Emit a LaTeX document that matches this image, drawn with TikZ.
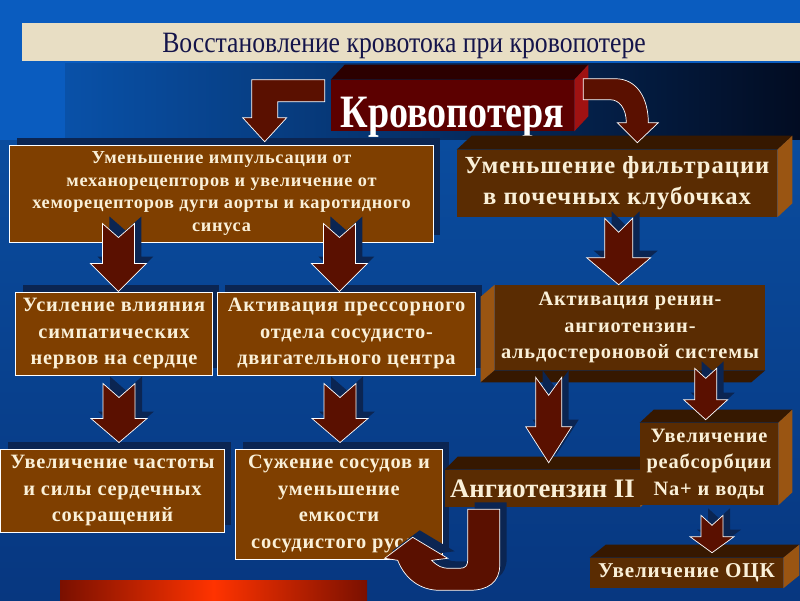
\documentclass[tikz,border=0pt]{standalone}
\usepackage{fontspec}
\setmainfont{Liberation Serif}
\newfontfamily\boxfont[LetterSpace=4]{Liberation Serif}
\newfontfamily\tallfont[FakeStretch=0.82]{Liberation Serif}
\newfontfamily\narrowfont[FakeStretch=0.87]{Liberation Serif}
\usetikzlibrary{calc,shadows}

\definecolor{bgblue}{HTML}{0A5CBF}
\definecolor{bglow}{HTML}{0A4C9E}
\definecolor{bgdeep}{HTML}{073780}
\definecolor{bgnight}{HTML}{020C22}
\definecolor{beige}{HTML}{E8DEC4}
\definecolor{titleink}{HTML}{14144A}
\definecolor{flatbrown}{HTML}{7F3F00}
\definecolor{boxfront}{HTML}{5A2C02}
\definecolor{boxtop}{HTML}{361800}
\definecolor{boxside}{HTML}{9A5512}
\definecolor{redfront}{HTML}{5C0000}
\definecolor{redtop}{HTML}{2C0000}
\definecolor{redside}{HTML}{A01212}
\definecolor{arrowfill}{HTML}{5A1000}
\definecolor{navyshadow}{HTML}{0B2552}
\definecolor{cream}{HTML}{FAF0D8}
\definecolor{barred}{HTML}{FF3300}
\definecolor{bardark}{HTML}{7A1000}

\def\pxu{0.025cm}
% top and right faces of a box drawn as a node
\def\extrude(#1)[#2:#3]#4#5{%
	\fill[#4] (#1.north west) -- ++(#2,#3) -- ($(#1.north east)+(#2,#3)$) -- (#1.north east) -- cycle;
	\fill[#5] (#1.north east) -- ++(#2,#3) -- ($(#1.south east)+(#2,#3)$) -- (#1.south east) -- cycle;}
% notched block arrow: start, tip, shaft half width, head half width, head height, notch
\newcommand\blkarrow[6]{%
	\foreach \dd/\sty in {7/arrshadow,0/arrbody}{%
		\path[\sty] let \p1=#1, \p2=#2, \p3=(\dd,-\dd) in
			(\x1-#3*\pxu+\x3,\y1+\y3) -- (\x1+\x3,\y1-#6*\pxu+\y3) -- (\x1+#3*\pxu+\x3,\y1+\y3)
			-- (\x1+#3*\pxu+\x3,\y2+#5*\pxu+\y3) -- (\x1+#4*\pxu+\x3,\y2+#5*\pxu+\y3)
			-- (\x1+\x3,\y2+\y3) -- (\x1-#4*\pxu+\x3,\y2+#5*\pxu+\y3)
			-- (\x1-#3*\pxu+\x3,\y2+#5*\pxu+\y3) -- cycle;
	}}

\tikzset{
	flat/.style={fill=flatbrown, draw=white, line width=0.7pt, text=cream, align=center, inner sep=0pt,
		drop shadow={shadow xshift=7*\pxu, shadow yshift=7*\pxu, opacity=1, fill=navyshadow}},
	front/.style={fill=boxfront, text=cream, align=center, inner sep=0pt},
	midtext/.style={font=\boxfont\bfseries\fontsize{14.5}{19}\selectfont},
	arrbody/.style={fill=arrowfill, draw=white, line width=0.5pt},
	arrshadow/.style={fill=navyshadow},
}

\begin{document}
\begin{tikzpicture}[x=0.025cm, y=-0.025cm]
			%%%%% BACKGROUND %%%%%
			\clip (0,0) rectangle (800,600);
			\fill[bgblue] (0,0) rectangle (800,600);
			\shade[left color=bgblue!88!black, right color=bgnight] (65,63) rectangle (800,140);
			\shade[top color=bglow, bottom color=bgdeep] (0,140) rectangle (800,600);
			
			\fill[beige] (22,23) rectangle (800,61);
			\node[text=titleink, font=\narrowfont\fontsize{21}{22}\selectfont] (title) at (404,46) {Восстановление кровотока при кровопотере};
			
			%%%%% BOXES %%%%%
			\node[fill=redfront, text=white, inner sep=0pt, minimum width=6.075cm, minimum height=1.275cm] (krov) at (452.5,105.5)
				{\raisebox{-0.56cm}[0pt][0pt]{\tallfont\bfseries\fontsize{33}{33}\selectfont Кровопотеря}};
			\extrude(krov)[14:-15]{redtop}{redside}
			
			\node[flat, minimum width=10.575cm, minimum height=2.425cm, font=\boxfont\bfseries\fontsize{13}{16.1}\selectfont] (imp) at (221.5,193.5)
				{Уменьшение импульсации от\\механорецепторов и увеличение от\\хеморецепторов дуги аорты и каротидного\\синуса};
			
			\node[front, minimum width=8cm, minimum height=1.675cm, font=\boxfont\bfseries\fontsize{17.5}{22}\selectfont] (filt) at (617,183.5)
				{Уменьшение фильтрации\\в почечных клубочках};
			\extrude(filt)[15:-14]{boxtop}{boxside}
			
			\node[flat, midtext, minimum width=4.9cm, minimum height=2.075cm] (usil) at (114,333.5)
				{Усиление влияния\\симпатических\\нервов на сердце};
			\node[flat, midtext, minimum width=6.425cm, minimum height=2.075cm] (akt) at (346.5,333.5)
				{Активация прессорного\\отдела сосудисто-\\двигательного центра};
			
			\node[front, midtext, minimum width=6.75cm, minimum height=2.125cm] (renin) at (630,327.5)
				{Активация ренин-\\ангиотензин-\\альдостероновой системы};
			\fill[boxside] (renin.north west) -- ++(-14,12) -- ($(renin.south west)+(-14,12)$) -- (renin.south west) -- cycle;
			\fill[boxtop] (renin.south west) -- ++(-14,12) -- ($(renin.south east)+(-14,12)$) -- (renin.south east) -- cycle;
			
			\node[flat, midtext, minimum width=5.575cm, minimum height=2.075cm] (chast) at (112.5,490.5)
				{Увеличение частоты\\и силы сердечных\\сокращений};
			\node[flat, midtext, minimum width=5.15cm, minimum height=2.75cm] (suzh) at (339,504)
				{Сужение сосудов и\\уменьшение\\емкости\\сосудистого русла};
			
			\node[front, minimum width=4.875cm, minimum height=0.925cm, font=\bfseries\fontsize{19}{19}\selectfont] (angio) at (542.5,488.5)
				{Ангиотензин II};
			\extrude(angio)[13:-13]{boxtop}{boxside}
			
			\node[front, midtext, minimum width=3.45cm, minimum height=2.05cm] (reab) at (709,464)
				{Увеличение\\реабсорбции\\Na+ и воды};
			\extrude(reab)[14:-13]{boxtop}{boxside}
			
			\node[front, font=\boxfont\bfseries\fontsize{15}{15}\selectfont, minimum width=4.825cm, minimum height=0.75cm] (ock) at (686.5,573)
				{Увеличение ОЦК};
			\extrude(ock)[16:-13]{boxtop}{boxside}
			
			\shade[left color=bardark, right color=bardark, middle color=barred] (60,580) rectangle (367,600);
			
			%%%%% ARROWS %%%%%
			\coordinate (lstart) at ($(krov.north west)+(-6,0)$);
			\coordinate (cstart) at ($(krov.north east)+(9,-1)$);
			\coordinate (ustart) at ($(angio.south west)+(23,2)$);
			\path[arrbody] (lstart) -- ++(-73,0) -- ++(0,38) -- ++(-9,0) -- ++(22,24) -- ++(22,-24) -- ++(-9,0) -- ++(0,-16) -- ++(47,0) -- cycle;
			\path[arrbody] (cstart) -- ++(32,0) .. controls +(22,0) and +(0,-24) .. ++(33,44) -- ++(10,0) -- ++(-21,20) -- ++(-20,-20) -- ++(9,0) .. controls +(0,-14) and +(9,0) .. ++(-16,-23) -- ++(-27,0) -- cycle;
			
			\blkarrow{($(imp.south west)+(109,-19)$)}{(usil.north)}{16}{28}{28}{14}
			\blkarrow{($(imp.south west)+(330,-19)$)}{(akt.north)}{16}{28}{28}{14}
			\blkarrow{($(filt.south west)+(162,1)$)}{(renin.north)}{14}{32}{27}{14}
			\blkarrow{($(usil.south)+(5,8)$)}{($(chast.north)+(0,-6)$)}{16}{28}{24}{14}
			\blkarrow{($(akt.south)+(-6.5,8)$)}{($(suzh.north)+(0,-6)$)}{16}{28}{24}{14}
			\blkarrow{($(renin.south west)+(54,7)$)}{($(angio.north)+(0,-7)$)}{13}{23}{36}{18}
			\blkarrow{($(renin.south west)+(211,-2)$)}{($(reab.north)+(0,-3)$)}{11}{22}{20}{10}
			\blkarrow{($(reab.south)+(3,10)$)}{($(ock.north)+(0,-5)$)}{11}{22}{16}{10}
			
			\foreach \dd/\sty in {7/arrshadow,0/arrbody}{
				\path[\sty] ([shift={(\dd,-\dd)}]ustart) -- ++(32,0) -- ++(0,56) .. controls +(0,17) and +(18,0) .. ++(-30,25) -- ++(-30,0) .. controls +(-20,0) and +(7,18) .. ++(-42,-30) -- ++(-13,-2) -- ++(28,-21) -- ++(35,21) -- ++(-16,2) .. controls +(6,6) and +(-8,0) .. ++(18,8) -- ++(10,0) .. controls +(6,0) and +(0,5) .. ++(8,-8) -- cycle;
			}
\end{tikzpicture}
\end{document}
